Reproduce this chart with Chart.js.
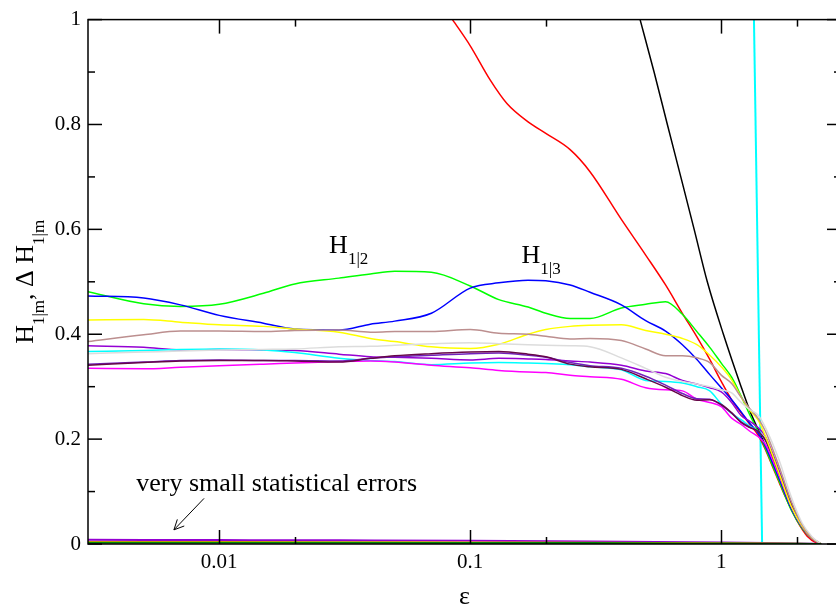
<!DOCTYPE html>
<html>
<head>
<meta charset="utf-8">
<script src="https://cdn.jsdelivr.net/npm/chart.js@4.4.1/dist/chart.umd.min.js"></script>
<style>
  html, body { margin: 0; padding: 0; overflow: hidden; background: #fff; }
  #wrap { width: 836px; height: 616px; overflow: hidden; }
</style>
</head>
<body>
<div id="wrap"><canvas id="entropy-chart" width="846" height="616"></canvas></div>
<script>
// epsilon grid shared by the H_{1|m} curves
const eps = [0.003, 0.005, 0.007, 0.01, 0.015, 0.02, 0.03, 0.04, 0.05, 0.07, 0.1, 0.13, 0.17, 0.2, 0.25, 0.3,
             0.4, 0.5, 0.6, 0.7, 0.8, 0.9, 1.0, 1.1, 1.2, 1.3, 1.4, 1.5, 1.7, 1.9, 2.1, 2.3, 2.5];

const hGreen   = [0.481, 0.458, 0.453, 0.457, 0.478, 0.496, 0.507, 0.515, 0.520, 0.518, 0.492, 0.466, 0.452, 0.440, 0.430, 0.430,
                  0.450, 0.457, 0.462, 0.438, 0.405, 0.375, 0.345, 0.318, 0.282, 0.246, 0.215, 0.182, 0.120, 0.065, 0.030, 0.010, 0];
const hBlue    = [0.473, 0.469, 0.456, 0.436, 0.421, 0.410, 0.408, 0.419, 0.425, 0.440, 0.488, 0.498, 0.503, 0.502, 0.494, 0.480,
                  0.456, 0.426, 0.406, 0.380, 0.352, 0.323, 0.298, 0.275, 0.252, 0.230, 0.212, 0.186, 0.125, 0.068, 0.032, 0.010, 0];
const hYellow  = [0.427, 0.428, 0.423, 0.418, 0.415, 0.410, 0.404, 0.392, 0.386, 0.376, 0.373, 0.381, 0.400, 0.409, 0.415, 0.417,
                  0.418, 0.407, 0.400, 0.392, 0.380, 0.360, 0.338, 0.313, 0.280, 0.255, 0.237, 0.205, 0.135, 0.072, 0.034, 0.011, 0];
const hBrown   = [0.386, 0.399, 0.406, 0.406, 0.405, 0.407, 0.408, 0.404, 0.405, 0.405, 0.409, 0.402, 0.400, 0.396, 0.391, 0.392,
                  0.388, 0.372, 0.359, 0.359, 0.355, 0.346, 0.322, 0.306, 0.280, 0.258, 0.240, 0.215, 0.148, 0.082, 0.037, 0.012, 0];
const hGrey    = [0.363, 0.366, 0.368, 0.370, 0.371, 0.372, 0.376, 0.377, 0.379, 0.382, 0.384, 0.382, 0.380, 0.379, 0.378, 0.376,
                  0.355, 0.335, 0.318, 0.310, 0.305, 0.300, 0.294, 0.288, 0.270, 0.256, 0.246, 0.222, 0.160, 0.090, 0.040, 0.014, 0];
const hViolet  = [0.378, 0.375, 0.370, 0.371, 0.370, 0.369, 0.362, 0.357, 0.356, 0.354, 0.351, 0.354, 0.353, 0.352, 0.349, 0.347,
                  0.341, 0.330, 0.325, 0.312, 0.305, 0.298, 0.290, 0.270, 0.245, 0.234, 0.222, 0.205, 0.140, 0.078, 0.036, 0.012, 0];
const hCyan    = [0.367, 0.369, 0.371, 0.372, 0.370, 0.365, 0.354, 0.350, 0.348, 0.342, 0.345, 0.346, 0.345, 0.344, 0.342, 0.338,
                  0.332, 0.312, 0.310, 0.307, 0.300, 0.292, 0.267, 0.249, 0.237, 0.225, 0.215, 0.198, 0.135, 0.074, 0.034, 0.011, 0];
const hMaroon  = [0.341, 0.346, 0.349, 0.350, 0.350, 0.349, 0.347, 0.354, 0.359, 0.363, 0.366, 0.367, 0.362, 0.357, 0.343, 0.338,
                  0.333, 0.315, 0.299, 0.283, 0.274, 0.275, 0.266, 0.250, 0.232, 0.222, 0.215, 0.198, 0.135, 0.075, 0.035, 0.011, 0];
const hIndigo  = [0.343, 0.347, 0.350, 0.351, 0.350, 0.350, 0.349, 0.354, 0.357, 0.360, 0.363, 0.364, 0.360, 0.356, 0.346, 0.340,
                  0.335, 0.320, 0.303, 0.287, 0.277, 0.276, 0.265, 0.250, 0.233, 0.223, 0.215, 0.198, 0.136, 0.076, 0.035, 0.011, 0];
const hMagenta = [0.335, 0.334, 0.337, 0.340, 0.343, 0.345, 0.348, 0.349, 0.347, 0.341, 0.336, 0.331, 0.328, 0.327, 0.322, 0.319,
                  0.314, 0.298, 0.294, 0.292, 0.276, 0.270, 0.262, 0.240, 0.228, 0.215, 0.205, 0.190, 0.130, 0.072, 0.033, 0.010, 0];

// reference curves (red, black) and the steep cyan line
const redEps   = [0.085, 0.1, 0.12, 0.14, 0.17, 0.2, 0.25, 0.3, 0.4, 0.5, 0.6, 0.7, 0.8, 0.9, 1.0, 1.1, 1.2, 1.3, 1.4,
                  1.5, 1.6, 1.7, 1.8, 2.0, 2.2, 2.4, 2.5];
const redH     = [1.0, 0.95, 0.885, 0.84, 0.805, 0.783, 0.752, 0.71, 0.619, 0.551, 0.494, 0.440, 0.395, 0.352, 0.31, 0.275,
                  0.25, 0.228, 0.208, 0.18, 0.148, 0.118, 0.09, 0.045, 0.015, 0.002, 0];
const blackEps = [0.475, 0.54, 0.61, 0.69, 0.78, 0.88, 1.02, 1.2, 1.31, 1.46, 1.7, 1.9, 2.1, 2.3, 2.5];
const blackH   = [1.0, 0.9, 0.8, 0.7, 0.6, 0.5, 0.4, 0.3, 0.25, 0.2, 0.122, 0.07, 0.035, 0.01, 0];
const lineEps  = [1.35, 1.455];
const lineH    = [1.0, 0];

// statistical errors Delta H_{1|m}
const errEps    = [0.003, 0.01, 0.03, 0.1, 0.3, 1.0, 1.5, 2.0, 2.5];
const errViolet = [0.008, 0.0075, 0.007, 0.0063, 0.005, 0.003, 0.002, 0.001, 0];
const errOrange = [0.004, 0.0038, 0.0035, 0.003, 0.0025, 0.0015, 0.001, 0.0005, 0];
const errGreen  = [0.0025, 0.0024, 0.0022, 0.002, 0.0017, 0.001, 0.0007, 0.0003, 0];

// axis ticks
const xMajorTicks = [0.01, 0.1, 1];
const xMinorTicks = [0.02, 0.2, 2];
const yMajorTicks = [0, 0.2, 0.4, 0.6, 0.8, 1];
const yMinorTicks = [0.1, 0.3, 0.5, 0.7, 0.9];

// text annotations, placed in data coordinates
const labelH12  = { x: 0.0274, y: 0.555, sub: '1|2' };
const labelH13  = { x: 0.16,   y: 0.536, sub: '1|3' };
const noteText  = { x: 0.00467, y: 0.101, text: 'very small statistical errors' };
const noteArrow = { from: { x: 0.0087, y: 0.087 }, to: { x: 0.0066, y: 0.027 } };

const SERIF = '"Liberation Serif", "Times New Roman", serif';
const mainFont = '26px ' + SERIF;
const subFont = '17px ' + SERIF;

function pts(xs, ys) {
    return xs.map((x, i) => ({ x: x, y: ys[i] }));
}

function curve(xs, ys, color, width) {
    return {
        data: pts(xs, ys),
        borderColor: color,
        borderWidth: width || 1.5,
        pointRadius: 0,
        fill: false,
        cubicInterpolationMode: 'monotone'
    };
}

// H followed by a subscript, left aligned on the baseline
function drawSubscripted(ctx, parts, x, y, center) {
    let w = 0;
    parts.forEach(([t, sub]) => {
        ctx.font = sub ? subFont : mainFont;
        w += ctx.measureText(t).width;
    });
    let cx = center ? x - w / 2 : x;
    parts.forEach(([t, sub]) => {
        ctx.font = sub ? subFont : mainFont;
        ctx.fillText(t, cx, sub ? y + 11 : y);
        cx += ctx.measureText(t).width;
    });
}

const framePlugin = {
    id: 'frame',
    afterDatasetsDraw(chart) {
        const { ctx, chartArea: a, scales: { x, y } } = chart;
        ctx.save();
        ctx.strokeStyle = '#000';
        ctx.lineWidth = 1.5;
        ctx.strokeRect(a.left, a.top, a.right - a.left, a.bottom - a.top);

        // inward ticks on all four sides
        const tick = (x0, y0, x1, y1) => {
            ctx.beginPath();
            ctx.moveTo(x0, y0);
            ctx.lineTo(x1, y1);
            ctx.stroke();
        };
        [[xMajorTicks, 14], [xMinorTicks, 7]].forEach(([vals, len]) => {
            vals.forEach(v => {
                const px = Math.round(x.getPixelForValue(v)) + 0.5;
                tick(px, a.bottom, px, a.bottom - len);
                tick(px, a.top, px, a.top + len);
            });
        });
        [[yMajorTicks, 14], [yMinorTicks, 7]].forEach(([vals, len]) => {
            vals.forEach(v => {
                const py = y.getPixelForValue(v);
                tick(a.left, py, a.left + len, py);
                tick(a.right, py, a.right - len, py);
            });
        });

        ctx.fillStyle = '#000';
        ctx.textBaseline = 'alphabetic';
        ctx.textAlign = 'left';

        // curve labels
        [labelH12, labelH13].forEach(l => {
            drawSubscripted(ctx, [['H', false], [l.sub, true]], x.getPixelForValue(l.x), y.getPixelForValue(l.y), false);
        });

        // note about the error curves, with an arrow
        ctx.font = mainFont;
        ctx.fillText(noteText.text, x.getPixelForValue(noteText.x), y.getPixelForValue(noteText.y));
        const ax0 = x.getPixelForValue(noteArrow.from.x), ay0 = y.getPixelForValue(noteArrow.from.y);
        const ax1 = x.getPixelForValue(noteArrow.to.x), ay1 = y.getPixelForValue(noteArrow.to.y);
        ctx.lineWidth = 1;
        tick(ax0, ay0, ax1, ay1);
        const ang = Math.atan2(ay1 - ay0, ax1 - ax0);
        [0.45, -0.45].forEach(d => {
            tick(ax1, ay1, ax1 - 11 * Math.cos(ang + d), ay1 - 11 * Math.sin(ang + d));
        });

        // y axis title, rotated
        ctx.translate(33, (a.top + a.bottom) / 2);
        ctx.rotate(-Math.PI / 2);
        drawSubscripted(ctx, [['H', false], ['1|m', true], [', \u0394 ', false], ['H', false], ['1|m', true]], 0, 0, true);
        ctx.restore();
    }
};

const datasets = [
    curve(errEps, errGreen, '#008b00', 2),
    curve(errEps, errOrange, '#ffa500', 2),
    curve(errEps, errViolet, '#9400d3', 2),
    curve(eps, hGrey, '#dcdcdc'),
    curve(eps, hBrown, '#bc8f8f'),
    curve(eps, hYellow, '#ffff00'),
    curve(eps, hMaroon, '#670748'),
    curve(eps, hIndigo, '#7221bc'),
    curve(eps, hMagenta, '#ff00ff'),
    curve(eps, hCyan, '#00ffff'),
    curve(eps, hViolet, '#9400d3'),
    curve(eps, hBlue, '#0000ff'),
    curve(eps, hGreen, '#00ff00'),
    curve(redEps, redH, '#ff0000'),
    curve(blackEps, blackH, '#000000'),
    curve(lineEps, lineH, '#00ffff', 2)
];

Chart.defaults.font.family = SERIF;
Chart.defaults.color = '#000';

new Chart(document.getElementById('entropy-chart'), {
    type: 'line',
    data: { datasets: datasets },
    options: {
        responsive: false,
        animation: false,
        layout: { padding: { top: 17, right: 5, left: 0, bottom: 0 } },
        plugins: { legend: { display: false }, tooltip: { enabled: false } },
        scales: {
            x: {
                type: 'logarithmic',
                min: 0.003,
                max: 3,
                grid: { display: false, drawTicks: false },
                border: { display: false },
                afterBuildTicks: s => { s.ticks = xMajorTicks.map(v => ({ value: v })); },
                afterFit: s => { s.height = 72; },
                ticks: {
                    autoSkip: false,
                    maxRotation: 0,
                    padding: 6,
                    font: { size: 21 },
                    callback: v => String(v)
                },
                title: {
                    display: true,
                    text: '\u03b5',
                    font: { size: 26 },
                    padding: { top: 0, bottom: 3 }
                }
            },
            y: {
                min: 0,
                max: 1,
                grid: { display: false, drawTicks: false },
                border: { display: false },
                afterBuildTicks: s => { s.ticks = yMajorTicks.map(v => ({ value: v })); },
                afterFit: s => { s.width = 88; },
                ticks: {
                    padding: 7,
                    font: { size: 21 },
                    callback: v => String(v)
                }
            }
        }
    },
    plugins: [framePlugin]
});
</script>
</body>
</html>
